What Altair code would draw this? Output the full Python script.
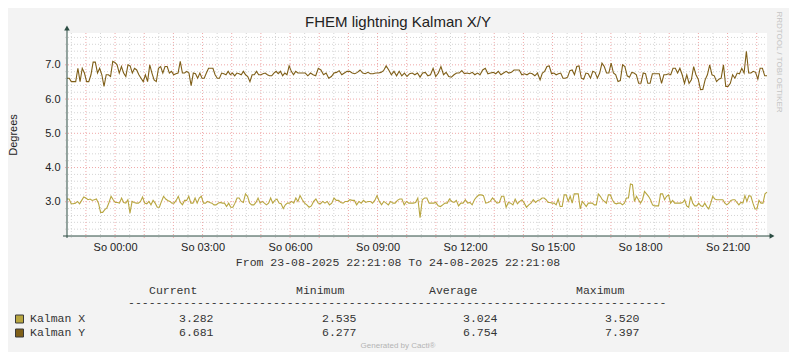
import altair as alt
import numpy as np
import pandas as pd

# ---------------- texts ----------------
title_text = "FHEM lightning Kalman X/Y"
y_title = "Degrees"
period_text = "From 23-08-2025 22:21:08 To 24-08-2025 22:21:08"
side_text = "RRDTOOL / TOBI OETIKER"
footer_text = "Generated by Cacti®"
series_names = ["Kalman X", "Kalman Y"]
series_colors = ["#B8A640", "#7F5F18"]
stat_headers = ["Current", "Minimum", "Average", "Maximum"]
stats_kalman_x = ["3.282", "2.535", "3.024", "3.520"]
stats_kalman_y = ["6.681", "6.277", "6.754", "7.397"]

# ---------------- axes ----------------
start_time = "2025-08-23 22:21:08"
end_time = "2025-08-24 22:21:08"
x_label_times = ["2025-08-24 00:00", "2025-08-24 03:00", "2025-08-24 06:00", "2025-08-24 09:00",
                 "2025-08-24 12:00", "2025-08-24 15:00", "2025-08-24 18:00", "2025-08-24 21:00"]
y_ticks = [3.0, 4.0, 5.0, 6.0, 7.0]
y_domain = [2.0, 7.93]
segment_hours = [0.0, 7.99, 16.22, 24.0]

# ---------------- series ----------------
kalman_y_seg1 = [6.61, 6.61, 6.51, 6.51, 6.51, 6.90, 6.51, 6.90, 6.76, 6.51,
                 6.51, 6.71, 7.08, 7.08, 6.76, 6.90, 6.71, 6.37, 6.71, 6.71,
                 6.66, 7.10, 7.07, 7.00, 6.76, 6.95, 6.76, 6.66, 7.00, 6.97,
                 6.76, 6.90, 6.85, 6.71, 6.61, 6.51, 6.71, 6.51, 7.00, 6.76,
                 6.56, 6.51, 6.90, 6.95, 6.76, 6.95, 6.95, 6.76, 6.81, 6.71,
                 6.74, 6.76, 7.10, 6.76, 6.76, 6.81, 6.76, 6.39, 6.76, 6.74,
                 6.61, 6.76, 6.61, 6.61, 6.76, 6.90, 6.90, 6.90, 6.71, 6.61,
                 6.61, 6.76, 6.74, 6.71, 6.81, 6.71, 6.76, 6.68, 6.76, 6.74,
                 6.71, 6.81, 6.71, 6.66, 6.51, 6.71, 6.71, 6.81, 6.71, 6.71,
                 6.74, 6.76, 6.71, 6.68, 6.68, 6.76, 6.81, 6.74, 6.81, 6.68,
                 6.76, 6.71, 6.97, 6.81, 6.71, 6.81, 6.76]
kalman_y_seg2 = [6.76, 6.76, 6.76, 6.68, 6.76, 6.71, 6.68, 6.90, 6.85, 6.71,
                 6.76, 6.61, 6.66, 6.76, 6.78, 6.83, 6.71, 6.76, 6.81, 6.81,
                 6.76, 6.74, 6.78, 6.85, 6.76, 6.74, 6.78, 6.74, 6.74, 6.76,
                 6.76, 6.78, 6.83, 6.97, 6.85, 6.71, 6.81, 6.68, 6.81, 6.68,
                 6.76, 6.66, 6.74, 6.76, 6.71, 6.76, 6.64, 6.76, 6.78, 6.68,
                 6.71, 6.90, 6.66, 6.76, 6.95, 6.71, 6.78, 6.66, 6.64, 6.71,
                 6.76, 6.76, 6.83, 6.74, 6.76, 6.74, 6.78, 6.71, 6.76, 6.71,
                 6.85, 6.90, 6.74, 6.76, 6.78, 6.74, 6.81, 6.71, 6.76, 6.81,
                 6.76, 6.78, 6.85, 6.85, 6.85, 6.71, 6.74, 6.71, 6.76, 6.74,
                 6.68, 6.76]
kalman_y_seg3 = [6.56, 6.76, 6.81, 6.95, 6.97, 6.74, 6.76, 6.71, 6.74, 6.76,
                 6.61, 6.61, 6.64, 6.83, 6.85, 6.71, 6.95, 6.97, 6.61, 6.58,
                 6.76, 6.74, 6.61, 6.81, 6.78, 6.61, 6.76, 7.05, 6.95, 6.76,
                 6.76, 7.05, 6.76, 6.71, 6.51, 6.54, 7.00, 6.95, 6.68, 6.64,
                 6.78, 6.76, 6.71, 6.46, 6.46, 6.76, 6.74, 6.46, 6.46, 6.74,
                 6.74, 6.74, 6.74, 6.46, 6.71, 6.71, 6.74, 6.71, 6.90, 6.90,
                 6.76, 6.90, 6.71, 6.46, 6.71, 6.46, 6.56, 6.95, 6.71, 6.58,
                 6.277, 6.28, 6.56, 6.71, 7.00, 6.71, 6.68, 6.51, 6.58, 6.61,
                 7.00, 6.37, 6.37, 6.46, 6.71, 6.61, 6.76, 6.74, 6.90, 6.76,
                 7.397, 6.76, 6.76, 6.81, 6.78, 6.58, 6.90, 6.90, 6.68, 6.681]

kalman_x_seg1 = [3.08, 3.08, 2.94, 2.94, 2.96, 3.01, 2.94, 3.04, 3.14, 3.11,
                 3.06, 3.08, 3.04, 3.06, 3.08, 2.96, 2.69, 2.69, 2.77, 2.82,
                 2.98, 3.16, 3.06, 2.98, 2.98, 2.96, 3.11, 2.98, 2.96, 3.06,
                 2.67, 3.01, 2.98, 2.96, 2.96, 3.01, 3.14, 2.96, 2.94, 3.01,
                 2.91, 3.04, 2.96, 2.84, 2.84, 3.01, 3.16, 3.08, 3.04, 3.01,
                 2.96, 2.96, 3.04, 3.16, 2.98, 2.91, 3.04, 3.04, 3.16, 2.96,
                 2.96, 3.11, 2.96, 3.11, 3.16, 2.96, 2.96, 3.01, 2.98, 2.96,
                 2.91, 2.91, 2.96, 2.98, 2.96, 2.96, 2.86, 2.96, 2.84, 2.84,
                 2.96, 3.11, 3.11, 3.01, 2.98, 3.23, 3.16, 2.96, 2.91, 2.91,
                 2.98, 3.11, 2.96, 3.01, 2.96, 2.91, 2.96, 3.11, 2.96, 3.04,
                 3.08, 2.96, 2.94, 2.80, 2.91, 2.96, 2.96, 3.01, 2.96, 3.11, 3.01]
kalman_x_seg2 = [3.18, 3.06, 2.96, 2.91, 2.84, 2.88, 3.01, 3.08, 2.96, 2.94,
                 3.01, 2.96, 3.01, 2.91, 2.96, 3.11, 3.04, 3.04, 2.98, 2.96,
                 3.01, 3.01, 3.06, 3.04, 3.04, 2.91, 3.01, 2.96, 3.04, 2.98,
                 3.01, 3.01, 2.96, 3.04, 3.18, 3.01, 2.91, 3.01, 2.96, 2.91,
                 3.01, 2.96, 2.96, 3.04, 3.08, 3.08, 2.91, 3.01, 2.96, 2.96,
                 2.96, 2.98, 3.11, 2.535, 3.06, 3.11, 3.11, 2.96, 2.96, 2.96,
                 2.98, 2.88, 2.86, 2.91, 2.96, 2.96, 3.08, 3.01, 2.98, 3.04,
                 2.88, 2.96, 2.96, 3.06, 2.96, 2.98, 2.91, 3.06, 3.14, 3.20,
                 3.20, 3.18, 2.96, 2.98, 3.01, 3.11, 3.04, 2.96, 2.98, 3.16,
                 3.16, 2.84, 2.98, 2.96, 2.91, 3.08, 2.94, 3.01, 3.06, 2.96,
                 2.84, 2.91, 2.96, 3.06, 2.98, 3.04]
kalman_x_seg3 = [3.06, 3.11, 3.11, 3.06, 2.98, 2.98, 2.96, 2.96, 2.91, 3.08,
                 2.86, 2.86, 3.20, 3.20, 3.01, 3.16, 2.96, 3.23, 3.23, 3.23,
                 2.79, 3.01, 2.94, 2.86, 2.96, 2.96, 2.96, 2.91, 2.91, 3.23,
                 3.16, 3.06, 3.01, 2.96, 3.20, 3.20, 3.06, 2.96, 2.94, 2.96,
                 2.96, 2.91, 2.96, 3.11, 3.11, 3.52, 3.50, 3.01, 3.16, 3.06,
                 2.96, 3.06, 3.30, 3.23, 3.16, 3.06, 2.91, 2.88, 2.88, 2.88,
                 3.23, 3.23, 3.06, 3.16, 3.20, 2.96, 3.04, 2.96, 2.96, 2.96,
                 2.96, 2.98, 3.06, 2.88, 2.84, 3.16, 2.96, 2.88, 2.88, 2.96,
                 2.88, 2.86, 2.96, 2.86, 2.79, 2.96, 3.16, 3.08, 3.06, 3.06,
                 3.06, 3.06, 2.96, 2.91, 2.96, 3.04, 3.06, 3.06, 2.98, 2.91,
                 2.98, 2.96, 3.18, 3.01, 3.18, 3.16, 2.96, 2.79, 2.79, 3.04,
                 2.96, 2.96, 3.23, 3.282]

# ---------------- build tables ----------------
t0 = pd.Timestamp(start_time, tz="UTC")
t1 = pd.Timestamp(end_time, tz="UTC")


def ms(ts):
    return int(ts.value // 10**6)


def series_rows(name, segments):
    rows = []
    for k, vals in enumerate(segments):
        last = k == len(segments) - 1
        hrs = np.linspace(segment_hours[k], segment_hours[k + 1], len(vals), endpoint=last)
        for h, v in zip(hrs, vals):
            rows.append({"t": ms(t0 + pd.Timedelta(hours=float(h))), "v": v, "s": name})
    return rows


line_df = pd.DataFrame(
    series_rows("Kalman Y", [kalman_y_seg1, kalman_y_seg2, kalman_y_seg3])
    + series_rows("Kalman X", [kalman_x_seg1, kalman_x_seg2, kalman_x_seg3])
)

grid_times = pd.date_range("2025-08-23 22:30", "2025-08-24 22:00", freq="30min", tz="UTC")
vgrid_df = pd.DataFrame({"t": [ms(t) for t in grid_times], "major": [t.minute == 0 for t in grid_times]})
hmajor_df = pd.DataFrame({"v": y_ticks})
hminor_vals = [round(2.0 + 0.2 * i, 1) for i in range(1, 30)]
hminor_df = pd.DataFrame({"v": [v for v in hminor_vals if abs(v - round(v)) > 1e-6]})

W, H = 700, 203
AXIS_COLOR = "#2C4D43"
MINOR_COLOR = "#D4D4D4"
MAJOR_COLOR = "#EFA8A8"
SANS = "Liberation Sans"
MONO = "Liberation Mono"

x_scale = alt.Scale(type="utc", domain=[ms(t0), ms(t1)])
y_scale = alt.Scale(domain=y_domain, nice=False, zero=False)

one = pd.DataFrame({"a": [0]})

hminor = alt.Chart(hminor_df).mark_rule(color=MINOR_COLOR, strokeDash=[1, 2], strokeWidth=1).encode(
    y=alt.Y("v:Q", scale=y_scale, axis=None), x=alt.value(-2), x2=alt.value(W))
hmajor = alt.Chart(hmajor_df).mark_rule(color=MAJOR_COLOR, strokeDash=[1, 2], strokeWidth=1).encode(
    y=alt.Y("v:Q", scale=y_scale, axis=None), x=alt.value(-2), x2=alt.value(W))
vminor = alt.Chart(vgrid_df).transform_filter("!datum.major").mark_rule(
    color=MINOR_COLOR, strokeDash=[1, 2], strokeWidth=1).encode(
    x=alt.X("t:T", scale=x_scale, axis=None), y=alt.value(0), y2=alt.value(H + 2))
vmajor = alt.Chart(vgrid_df).transform_filter("datum.major").mark_rule(
    color=MAJOR_COLOR, strokeDash=[1, 2], strokeWidth=1).encode(
    x=alt.X("t:T", scale=x_scale, axis=None), y=alt.value(0), y2=alt.value(H + 2))

lines = alt.Chart(line_df).mark_line(strokeWidth=1.1).encode(
    x=alt.X("t:T", scale=x_scale, title=None,
            axis=alt.Axis(orient="bottom",
                          values=[ms(pd.Timestamp(s, tz="UTC")) for s in x_label_times],
                          labelExpr="'So ' + utcFormat(datum.value, '%H:%M')",
                          domain=False, ticks=False, grid=False, labelPadding=5,
                          labelFont=SANS, labelFontSize=11, labelColor="#222222")),
    y=alt.Y("v:Q", scale=y_scale, title=None,
            axis=alt.Axis(orient="left", values=y_ticks, format=".1f", domain=False, ticks=False,
                          grid=False, labelPadding=7, labelFont=SANS, labelFontSize=11,
                          labelColor="#222222")),
    color=alt.Color("s:N", scale=alt.Scale(domain=series_names, range=series_colors), legend=None),
    detail="s:N",
)

y_axis_line = alt.Chart(one).mark_rule(color=AXIS_COLOR, strokeWidth=1).encode(
    x=alt.value(0), y=alt.value(-4), y2=alt.value(H + 2))
x_axis_line = alt.Chart(one).mark_rule(color=AXIS_COLOR, strokeWidth=1).encode(
    y=alt.value(H), x=alt.value(-4), x2=alt.value(W + 4))
arrow_up = alt.Chart(one).mark_point(shape="triangle-up", filled=True, size=32, color=AXIS_COLOR, opacity=1).encode(
    x=alt.value(0), y=alt.value(-5))
arrow_right = alt.Chart(one).mark_point(shape="triangle-right", filled=True, size=32, color=AXIS_COLOR, opacity=1).encode(
    x=alt.value(W + 5), y=alt.value(H))


def label(text, x, y, size=11, font=SANS, color="#222222", align="left", angle=0):
    return alt.Chart(one).mark_text(font=font, fontSize=size, color=color, align=align,
                                    baseline="middle", angle=angle).encode(
        x=alt.value(x), y=alt.value(y), text=alt.value(text))


texts = [
    label(title_text, 331, -11, size=15, align="center"),
    label(y_title, -53, 102, size=11, align="center", angle=270),
    label(period_text, 331, 230, size=11.5, font=MONO, align="center", color="#333333"),
    label(side_text, 712, 29, size=8, align="center", angle=90, color="#C4C4C4"),
    label(footer_text, 331, 313, size=8, align="center", color="#B4B4B4"),
    label("-" * 78, 61, 270, size=11.5, font=MONO, color="#333333"),
]
for hx, h in zip([82, 229, 362, 509], stat_headers):
    texts.append(label(h, hx, 258, size=11.5, font=MONO, color="#333333"))
for row_y, name, stats in [(286, series_names[0], stats_kalman_x), (300, series_names[1], stats_kalman_y)]:
    texts.append(label(name, -37, row_y, size=11.5, font=MONO, color="#333333"))
    for vx, s in zip([112, 255, 396, 538], stats):
        texts.append(label(s, vx, row_y, size=11.5, font=MONO, color="#333333"))

swatches = alt.Chart(pd.DataFrame({"s": series_names})).mark_square(
    size=64, filled=True, opacity=1, stroke="#3A3A3A", strokeWidth=1).encode(
    x=alt.value(-47.5),
    y=alt.Y("s:N", scale=alt.Scale(type="point", domain=series_names, range=[286, 300], padding=0), axis=None),
    fill=alt.Fill("s:N", scale=alt.Scale(domain=series_names, range=series_colors), legend=None),
)

chart = alt.layer(
    hminor, hmajor, vminor, vmajor, lines, y_axis_line, x_axis_line, arrow_up, arrow_right, swatches, *texts
).resolve_scale(x="independent", y="independent").properties(
    width=W, height=H,
    padding={"left": 59, "top": 25, "right": 22, "bottom": 116},
    autosize=alt.AutoSizeParams(type="none"),
    background="#F3F3F3",
).configure_view(fill="#FFFFFF", stroke=None)

chart.save("out.html", embed_options={"renderer": "svg", "actions": False})
